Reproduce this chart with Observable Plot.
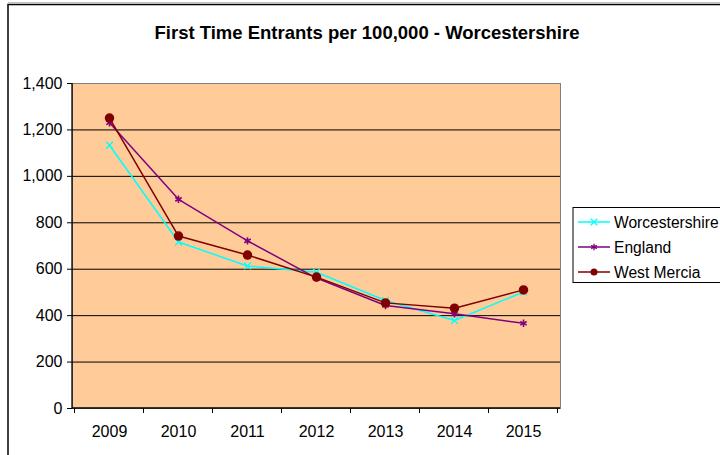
<!DOCTYPE html>
<html><head><meta charset="utf-8">
<script src="https://cdn.jsdelivr.net/npm/d3@7"></script>
<script src="https://cdn.jsdelivr.net/npm/@observablehq/plot@0.6"></script>
<style>body{margin:0;background:#fff;} svg{display:block;}</style>
</head><body><div id="chart"></div>
<script>
const years = [2009, 2010, 2011, 2012, 2013, 2014, 2015];
const worcestershire = [1134, 717, 614, 587, 465, 379, 502];
const england = [1231, 901, 722, 562, 444, 408, 367];
const westMercia = [1251, 743, 661, 566, 455, 432, 511];
const yTicks = [0, 200, 400, 600, 800, 1000, 1200, 1400];
const seriesNames = ["Worcestershire", "England", "West Mercia"];
const seriesColors = ["#00FFFF", "#800080", "#800000"];
const titleText = "First Time Entrants per 100,000 - Worcestershire";

const seriesValues = [worcestershire, england, westMercia];
const rows = [];
seriesNames.forEach((s, i) => years.forEach((y, j) => rows.push({series: s, year: y, value: seriesValues[i][j]})));
const bySeries = s => rows.filter(r => r.series === s);

const W = 720, H = 455;
const FONT = "'Liberation Sans', Arial, sans-serif";
const chart = Plot.plot({
  width: W, height: H,
  marginLeft: 72, marginRight: 160, marginTop: 83, marginBottom: 47,
  style: {fontFamily: FONT, fontSize: "16px", background: "transparent", color: "#000"},
  x: {type: "point", domain: years, padding: 0.5, tickSize: 0, tickPadding: 17, tickFormat: d => String(d), label: null},
  y: {domain: [0, 1400], ticks: yTicks, tickSize: 5, tickPadding: 5, tickFormat: d3.format(","), label: null},
  color: {domain: seriesNames, range: seriesColors},
  marks: [
    Plot.frame({fill: "#FFCC99", stroke: "#808080"}),
    Plot.ruleY(yTicks.filter(d => d > 0 && d < 1400), {stroke: "#000", strokeWidth: 1}),
    Plot.line(rows, {x: "year", y: "value", z: "series", stroke: "series", strokeWidth: 1.5}),
    Plot.dot(bySeries("Worcestershire"), {x: "year", y: "value", symbol: "times", r: 3.2, stroke: "series", strokeWidth: 1.3}),
    Plot.dot(bySeries("England"), {x: "year", y: "value", symbol: "asterisk", r: 3.5, stroke: "series", strokeWidth: 1.6}),
    Plot.dot(bySeries("West Mercia"), {x: "year", y: "value", symbol: "circle", r: 4, fill: "series", stroke: "series"})
  ]
});

const svg = d3.select(chart);
svg.selectAll("text").attr("font-size", 16).style("font-size", "16px").style("font-family", FONT);
const xs = chart.scale("x"), ys = chart.scale("y");
const [x0, x1] = xs.range;
const [yb, yt] = ys.range;
// axis lines
svg.append("line").attr("x1", x0).attr("x2", x0).attr("y1", yt).attr("y2", yb).attr("stroke", "#000").attr("stroke-width", 1.3);
svg.append("line").attr("x1", x0).attr("x2", x1).attr("y1", yb).attr("y2", yb).attr("stroke", "#000").attr("stroke-width", 1.3);
// x ticks at category boundaries
const centers = years.map(y => xs.apply(y));
const step = centers[1] - centers[0];
const edges = [centers[0] - step / 2, ...centers.map(c => c + step / 2)];
edges.forEach(e => svg.append("line").attr("x1", e).attr("x2", e).attr("y1", yb).attr("y2", yb + 5).attr("stroke", "#000").attr("stroke-width", 1));
// outer frame
svg.append("rect").attr("x", 8).attr("y", 4.5).attr("width", W + 20).attr("height", H + 20)
  .attr("fill", "none").attr("stroke", "#000").attr("stroke-width", 1.5);
svg.append("line").attr("x1", 8).attr("x2", W).attr("y1", 2.5).attr("y2", 2.5).attr("stroke", "#c0c0c0").attr("stroke-width", 1);
// title
svg.append("text").attr("x", 367).attr("y", 38.5).attr("text-anchor", "middle")
  .attr("font-family", FONT).attr("font-size", 18.5).attr("font-weight", "bold").text(titleText);
// legend
const lg = svg.append("g").attr("text-anchor", "start");
lg.append("rect").attr("x", 573).attr("y", 207.5).attr("width", 160).attr("height", 75)
  .attr("fill", "#fff").attr("stroke", "#000").attr("stroke-width", 1);
const legendSymbols = ["times", "asterisk", "circle"];
seriesNames.forEach((s, i) => {
  const cy = 222 + i * 25;
  lg.append("line").attr("x1", 578).attr("x2", 610).attr("y1", cy).attr("y2", cy).attr("stroke", seriesColors[i]).attr("stroke-width", 1.5);
  const sym = legendSymbols[i];
  if (sym === "circle") {
    lg.append("circle").attr("cx", 594).attr("cy", cy).attr("r", 3.5).attr("fill", seriesColors[i]);
  } else {
    const symbol = sym === "times" ? d3.symbolTimes : d3.symbolAsterisk;
    lg.append("path").attr("transform", `translate(594,${cy})`).attr("d", d3.symbol(symbol, 30)())
      .attr("fill", "none").attr("stroke", seriesColors[i]).attr("stroke-width", 1.3);
  }
  lg.append("text").attr("x", 614).attr("y", cy + 5.5).attr("text-anchor", "start")
    .attr("font-family", FONT).attr("font-size", 15.6).text(s);
});

document.getElementById("chart").appendChild(chart);
</script>
</body></html>
